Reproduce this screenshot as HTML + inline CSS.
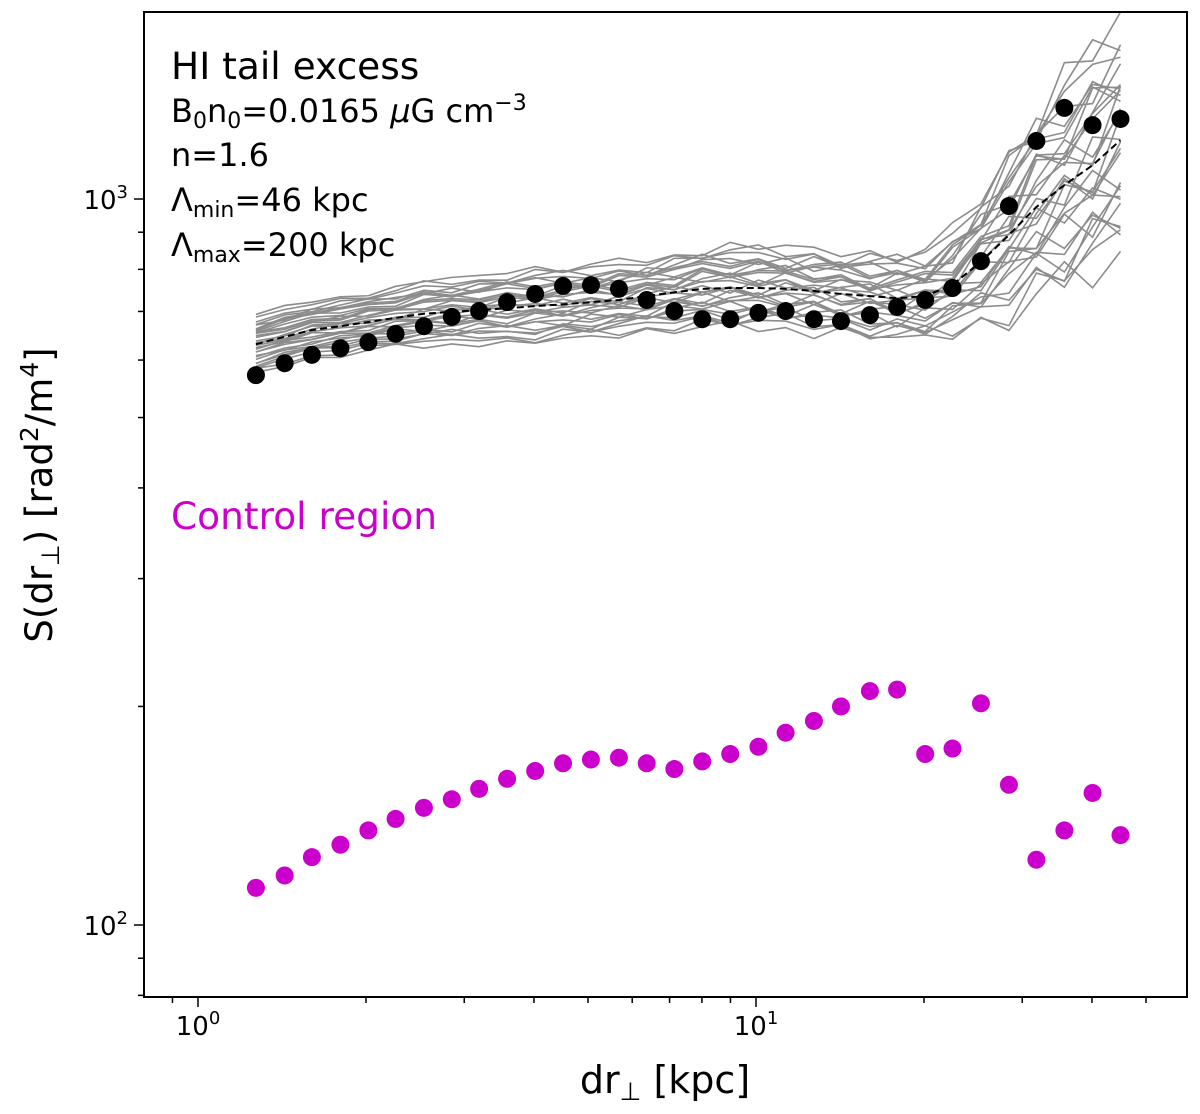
<!DOCTYPE html>
<html><head><meta charset="utf-8"><style>
body{margin:0;background:#fff}
svg text{font-family:"DejaVu Sans","Liberation Sans",sans-serif}
</style></head><body>
<svg id="chart" width="1200" height="1109" xmlns="http://www.w3.org/2000/svg">
<g id="grey"></g><g id="marks"></g><g id="axes"></g>
<text x="171" y="79" font-size="37.5">HI tail excess</text>
<text x="171" y="122" font-size="32">B<tspan font-size="22" dy="6">0</tspan><tspan dy="-6">n</tspan><tspan font-size="22" dy="6">0</tspan><tspan dy="-6">=0.0165 </tspan><tspan font-style="italic">μ</tspan>G cm<tspan font-size="22" dy="-12">−3</tspan></text>
<text x="171" y="166" font-size="32">n=1.6</text>
<text x="171" y="211" font-size="32">Λ<tspan font-size="22" dy="6">min</tspan><tspan dy="-6">=46 kpc</tspan></text>
<text x="171" y="256" font-size="32">Λ<tspan font-size="22" dy="6">max</tspan><tspan dy="-6">=200 kpc</tspan></text>
<text x="171" y="529" font-size="37.5" fill="#cc00cc">Control region</text>
<text transform="translate(52,495) rotate(-90)" text-anchor="middle" font-size="37">S(dr<tspan font-size="25" dy="7">⊥</tspan><tspan dy="-7">) [rad</tspan><tspan font-size="25" dy="-14">2</tspan><tspan dy="14">/m</tspan><tspan font-size="25" dy="-14">4</tspan><tspan dy="14">]</tspan></text>
<text x="665" y="1093" text-anchor="middle" font-size="38">dr<tspan font-size="25" dy="7">⊥</tspan><tspan dy="-7"> [kpc]</tspan></text>
</svg>
<script>
const xVals=[1.27,1.43,1.60,1.80,2.02,2.26,2.54,2.85,3.19,3.58,4.02,4.51,5.06,5.68,6.37,7.14,8.01,8.99,10.1,11.3,12.7,14.2,16.0,17.9,20.1,22.5,25.3,28.4,31.8,35.7,40.1,45.0];
const hiTail=[572,594,610,623,635,652,668,688,701,721,740,759,761,752,726,701,683,683,697,701,683,679,692,710,726,754,821,978,1202,1335,1264,1289];
const control=[112.5,117,124,129,135,140,145,149,154,159,163,167,169,170,167,164,168,172,176,184,191,200,210,211,172,175,202,156,123,135,152,133];
const modelMean=[631,646,660,668,677,686,695,699,703,707,712,716,721,726,735,744,752,754,754,752,747,740,735,730,735,762,819,892,975,1045,1113,1205];
const spreadDex=[0.04,0.04,0.04,0.04,0.04,0.04,0.045,0.045,0.045,0.05,0.05,0.05,0.05,0.05,0.05,0.05,0.055,0.055,0.055,0.055,0.055,0.055,0.055,0.06,0.06,0.07,0.09,0.11,0.13,0.14,0.15,0.16];
const lineOffsets=[-1,-0.9,-0.8,-0.7,-0.6,-0.5,-0.4,-0.3,-0.2,-0.1,0,0.1,0.2,0.3,0.4,0.5,0.6,0.7,0.8,0.9,1,-0.45,0.25,0.65,-0.15,0.35,-0.65,0.05,0.55,-0.25];
const wiggle=[0.3,-0.2,0.4,-0.5,0.2,0.6,-0.3,0.1,-0.6,0.5,-0.1,0.3];
const xTickLabels=[{v:1,t:"0"},{v:10,t:"1"}];
const yTickLabels=[{v:100,t:"2"},{v:1000,t:"3"}];
const X0=198,XD=558,Y3=199,YD=726,L=144,R=1187,T=12,B=997;
const xs=v=>X0+XD*Math.log10(v);
const ys=v=>Y3-YD*(Math.log10(v)-3);
const NS="http://www.w3.org/2000/svg";
function mk(tag,attrs,parent){const e=document.createElementNS(NS,tag);for(const k in attrs)e.setAttribute(k,attrs[k]);parent.appendChild(e);return e;}
const grey=document.getElementById('grey'),marks=document.getElementById('marks'),axes=document.getElementById('axes');
lineOffsets.forEach((o,li)=>{
  const pts=xVals.map((x,i)=>{const w=wiggle[(i+li*5)%wiggle.length]*0.4;return xs(x)+","+Math.max(T,ys(modelMean[i]*Math.pow(10,spreadDex[i]*(o+w*(0.3+i/40)))))}).join(" ");
  const p=mk('polyline',{points:pts,fill:'none',stroke:'#8c8c8c','stroke-width':1.6},grey);
  
  
});
const dash=mk('polyline',{points:xVals.map((x,i)=>xs(x)+","+ys(modelMean[i])).join(" "),fill:'none',stroke:'#000','stroke-width':2,'stroke-dasharray':'7,4'},marks);


xVals.forEach((x,i)=>{
  const c=mk('circle',{cx:xs(x),cy:ys(hiTail[i]),r:9,fill:'#000'},marks);
  
  
  const m=mk('circle',{cx:xs(x),cy:ys(control[i]),r:9,fill:'#cc00cc'},marks);
  
  
});
const frame=mk('rect',{x:L,y:T,width:R-L,height:B-T,fill:'none',stroke:'#000','stroke-width':2},axes);


for(let d=-1;d<=1;d++)for(let k=1;k<10;k++){const v=k*Math.pow(10,d);const px=xs(v);if(px<L||px>R)continue;
  const t=mk('line',{x1:px,x2:px,y1:B,y2:B+(k==1?10:6),stroke:'#000','stroke-width':1.5},axes);
  
  }
for(let d=1;d<=3;d++)for(let k=1;k<10;k++){const v=k*Math.pow(10,d);const py=ys(v);if(py<T||py>B)continue;
  const t=mk('line',{x1:L,x2:L-(k==1?10:6),y1:py,y2:py,stroke:'#000','stroke-width':1.5},axes);
  
  }
xTickLabels.forEach(o=>{const t=mk('text',{x:xs(o.v),y:B+38,'text-anchor':'middle','font-size':26},axes);t.innerHTML='10<tspan font-size="18" dy="-11">'+o.t+'</tspan>';
  
  });
yTickLabels.forEach(o=>{const t=mk('text',{x:L-16,y:ys(o.v)+10,'text-anchor':'end','font-size':26},axes);t.innerHTML='10<tspan font-size="18" dy="-11">'+o.t+'</tspan>';
  
  });
</script>
</body></html>
